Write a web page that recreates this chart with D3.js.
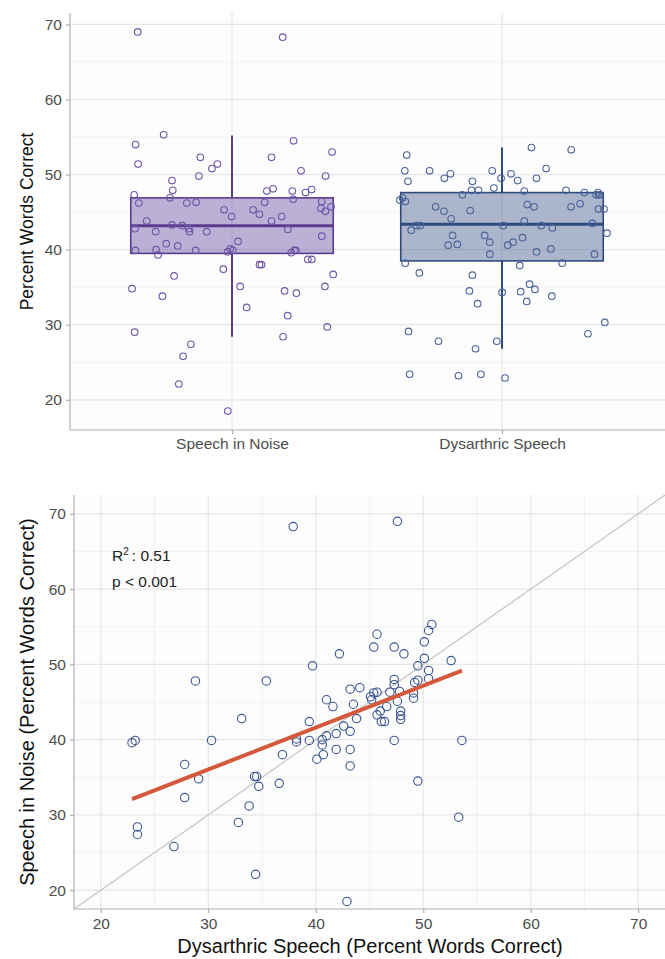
<!DOCTYPE html>
<html><head><meta charset="utf-8">
<script src="https://cdn.jsdelivr.net/npm/d3@7/dist/d3.min.js"></script>
<style>
body{margin:0;background:#fff;}
svg{display:block;font-family:"Liberation Sans",Arial,Helvetica,sans-serif;}
</style></head>
<body>
<svg id="chart" width="665" height="959"></svg>
<script>
// ---- data (paired per listener: dysarthric speech vs speech in noise, % words correct) ----
const categories = ["Speech in Noise", "Dysarthric Speech"];
const dysarthric = [37.9,47.6,50.8,50.5,45.7,45.4,47.3,50.1,48.2,42.2,52.6,50.1,39.7,49.5,50.5,50.5,49.5,49.2,47.3,47.3,
  28.8,35.4,49.1,49.1,47.8,46.9,45.7,45.4,45.1,45.2,47.6,46.6,46.0,45.7,46.1,46.4,47.9,47.9,47.9,43.2,
  44.1,41.0,41.6,43.5,43.8,39.4,42.6,43.2,41.9,41.0,40.6,40.6,40.7,38.2,39.4,40.1,41.9,43.2,43.2,47.3,
  53.6,33.1,22.9,23.2,30.3,27.8,29.1,27.8,23.4,23.4,26.8,34.3,34.5,34.7,33.8,32.8,36.6,36.9,34.4,42.9,
  38.2,49.5,53.3];
const noise = [68.3,69.0,55.3,54.5,54.0,52.3,52.3,53.0,51.4,51.4,50.5,50.8,49.8,49.8,49.2,48.1,47.9,47.6,48.0,47.3,
  47.8,47.8,46.2,45.5,46.4,46.3,46.3,46.2,45.7,45.3,45.1,44.4,43.8,43.3,42.4,42.4,43.8,43.2,42.7,46.7,
  46.9,45.3,44.4,44.7,42.8,42.4,41.8,41.1,40.8,40.5,40.0,39.3,38.0,39.7,39.9,37.4,38.7,38.7,36.5,39.9,
  39.9,42.8,39.6,39.9,39.9,36.7,34.8,32.3,28.4,27.4,25.8,35.1,35.1,33.8,31.2,29.0,34.2,38.0,22.1,18.5,
  40.1,34.5,29.7];
// box summaries: [lower whisker, Q1, median, Q3, upper whisker]
const noiseBox = [28.4, 39.5, 43.2, 46.9, 55.2];
const dysarthricBox = [26.8, 38.5, 43.4, 47.6, 53.6];
const valueTicks = [20,30,40,50,60,70];
const minorTicks = [25,35,45,55,65];
const fitLabel = ["R", "2", ": 0.51"];
const pLabel = "p < 0.001";

const series = [
  {name: categories[0], values: noise, box: noiseBox, stroke: "#5c3b8f", fill: "rgba(106,81,163,0.45)", pt: "#6e55a8"},
  {name: categories[1], values: dysarthric, box: dysarthricBox, stroke: "#2e4a7e", fill: "rgba(70,95,145,0.45)", pt: "#4a639a"}
];

const svg = d3.select("#chart");
const gridMajor = "#e6e6e6", gridMinor = "#f2f2f2", axisCol = "#b0b0b0", tickText = "#4d4d4d";
const tickFont = "15.5px";

// ================= TOP PANEL: box + jitter =================
const T = {l: 70, r: 665, t: 13, b: 430};
const all = noise.concat(dysarthric);
const ext = d3.extent(all), pad = (ext[1]-ext[0])*0.05;
const yTop = d3.scaleLinear().domain([ext[0]-pad, ext[1]+pad]).range([T.b, T.t]);
const xTop = d3.scalePoint().domain(categories).range([T.l, T.r-1]).padding(0.6);
const step = xTop.step();

const gT = svg.append("g");
gT.append("rect").attr("x",T.l).attr("y",T.t).attr("width",T.r-T.l).attr("height",T.b-T.t).attr("fill","#fdfdfd");
gT.selectAll(".mi").data(minorTicks).join("line")
  .attr("x1",T.l).attr("x2",T.r).attr("y1",d=>yTop(d)).attr("y2",d=>yTop(d)).attr("stroke",gridMinor).attr("stroke-width",1);
gT.selectAll(".ma").data(valueTicks).join("line")
  .attr("x1",T.l).attr("x2",T.r).attr("y1",d=>yTop(d)).attr("y2",d=>yTop(d)).attr("stroke",gridMajor).attr("stroke-width",1.2);
gT.selectAll(".mv").data(categories).join("line")
  .attr("x1",d=>xTop(d)).attr("x2",d=>xTop(d)).attr("y1",T.t).attr("y2",T.b).attr("stroke",gridMajor).attr("stroke-width",1.2);

const rng = d3.randomLcg(0.4242);
const jit = d3.randomUniform.source(rng)(-0.39, 0.39);

series.forEach(s => {
  const [lo, q1, med, q3, hi] = s.box;
  const cx = xTop(s.name), bw = step*0.75;
  const g = gT.append("g");
  g.append("line").attr("x1",cx).attr("x2",cx).attr("y1",yTop(hi)).attr("y2",yTop(q3)).attr("stroke",s.stroke).attr("stroke-width",2);
  g.append("line").attr("x1",cx).attr("x2",cx).attr("y1",yTop(q1)).attr("y2",yTop(lo)).attr("stroke",s.stroke).attr("stroke-width",2);
  g.append("rect").attr("x",cx-bw/2).attr("y",yTop(q3)).attr("width",bw).attr("height",yTop(q1)-yTop(q3))
    .attr("fill",s.fill).attr("stroke",s.stroke).attr("stroke-width",1.6);
  g.append("line").attr("x1",cx-bw/2).attr("x2",cx+bw/2).attr("y1",yTop(med)).attr("y2",yTop(med)).attr("stroke",s.stroke).attr("stroke-width",3);
  g.selectAll("circle").data(s.values).join("circle")
    .attr("cx",()=>cx+jit()*step).attr("cy",d=>yTop(d)).attr("r",3.3)
    .attr("fill","none").attr("stroke",s.pt).attr("stroke-width",1.1);
});

// axes
const axL = gT.append("g").attr("transform",`translate(${T.l},0)`)
  .call(d3.axisLeft(yTop).tickValues(valueTicks).tickSize(4).tickPadding(4));
const axB = gT.append("g").attr("transform",`translate(0,${T.b})`)
  .call(d3.axisBottom(xTop).tickSize(4).tickPadding(4));
[axL,axB].forEach(a=>{
  a.select(".domain").attr("stroke",axisCol).attr("stroke-width",1.2);
  a.selectAll(".tick line").attr("stroke",axisCol).attr("stroke-width",1.2);
  a.selectAll(".tick text").attr("fill",tickText).style("font-size",tickFont).style("font-family","inherit");
});
axL.select(".domain").attr("d",`M0,${T.t}V${T.b}`);
axB.select(".domain").attr("d",`M${T.l},0H${T.r}`);

svg.append("text").attr("transform",`translate(33,${(T.t+T.b)/2}) rotate(-90)`)
  .attr("text-anchor","middle").style("font-size","17.5px").attr("fill","#111").text("Percent Words Correct");

// ================= BOTTOM PANEL: scatter =================
const B = {l: 74, r: 665, t: 495, b: 909};
const lim = [valueTicks[0]-2.5, valueTicks[valueTicks.length-1]+2.5];
const xS = d3.scaleLinear().domain(lim).range([B.l, B.r]);
const yS = d3.scaleLinear().domain(lim).range([B.b, B.t]);
const gB = svg.append("g");
gB.append("rect").attr("x",B.l).attr("y",B.t).attr("width",B.r-B.l).attr("height",B.b-B.t).attr("fill","#fdfdfd");
gB.selectAll(".mi").data(minorTicks).join("line")
  .attr("x1",B.l).attr("x2",B.r).attr("y1",d=>yS(d)).attr("y2",d=>yS(d)).attr("stroke",gridMinor);
gB.selectAll(".mix").data(minorTicks).join("line")
  .attr("x1",d=>xS(d)).attr("x2",d=>xS(d)).attr("y1",B.t).attr("y2",B.b).attr("stroke",gridMinor);
gB.selectAll(".ma").data(valueTicks).join("line")
  .attr("x1",B.l).attr("x2",B.r).attr("y1",d=>yS(d)).attr("y2",d=>yS(d)).attr("stroke",gridMajor).attr("stroke-width",1.2);
gB.selectAll(".max").data(valueTicks).join("line")
  .attr("x1",d=>xS(d)).attr("x2",d=>xS(d)).attr("y1",B.t).attr("y2",B.b).attr("stroke",gridMajor).attr("stroke-width",1.2);

// identity line
gB.append("line").attr("x1",xS(lim[0])).attr("y1",yS(lim[0])).attr("x2",xS(lim[1])).attr("y2",yS(lim[1]))
  .attr("stroke","#c4c4c4").attr("stroke-width",1.2);

gB.selectAll("circle").data(dysarthric.map((d,i)=>[d,noise[i]])).join("circle")
  .attr("cx",d=>xS(d[0])).attr("cy",d=>yS(d[1])).attr("r",4.2)
  .attr("fill","none").attr("stroke","#3a5590").attr("stroke-width",1.1);

// least squares fit
const mx = d3.mean(dysarthric), my = d3.mean(noise);
let sxy=0,sxx=0; dysarthric.forEach((d,i)=>{sxy+=(d-mx)*(noise[i]-my); sxx+=(d-mx)*(d-mx);});
const slope = sxy/sxx, icpt = my - slope*mx;
const xe = d3.extent(dysarthric);
gB.append("line").attr("x1",xS(xe[0])).attr("y1",yS(icpt+slope*xe[0])).attr("x2",xS(xe[1])).attr("y2",yS(icpt+slope*xe[1]))
  .attr("stroke","#d4593b").attr("stroke-width",4).attr("stroke-linecap","butt");

const ann = gB.append("text").attr("x",112).attr("y",561).style("font-size","15.5px").attr("fill","#222");
ann.append("tspan").text(fitLabel[0]);
ann.append("tspan").attr("dy",-6).style("font-size","10px").text(fitLabel[1]);
ann.append("tspan").attr("dy",6).attr("dx",3).text(fitLabel[2]);
gB.append("text").attr("x",112).attr("y",587).style("font-size","15.5px").attr("fill","#222").text(pLabel);

const axL2 = gB.append("g").attr("transform",`translate(${B.l},0)`)
  .call(d3.axisLeft(yS).tickValues(valueTicks).tickSize(4).tickPadding(4));
const axB2 = gB.append("g").attr("transform",`translate(0,${B.b})`)
  .call(d3.axisBottom(xS).tickValues(valueTicks).tickSize(4).tickPadding(5));
[axL2,axB2].forEach(a=>{
  a.select(".domain").attr("stroke",axisCol).attr("stroke-width",1.2);
  a.selectAll(".tick line").attr("stroke",axisCol).attr("stroke-width",1.2);
  a.selectAll(".tick text").attr("fill",tickText).style("font-size",tickFont).style("font-family","inherit");
});
axL2.select(".domain").attr("d",`M0,${B.t}V${B.b}`);
axB2.select(".domain").attr("d",`M${B.l},0H${B.r}`);

svg.append("text").attr("transform",`translate(34,${(B.t+B.b)/2}) rotate(-90)`)
  .attr("text-anchor","middle").style("font-size","20px").attr("fill","#111").text("Speech in Noise (Percent Words Correct)");
svg.append("text").attr("x",370).attr("y",953).attr("text-anchor","middle")
  .style("font-size","20px").attr("fill","#111").text("Dysarthric Speech (Percent Words Correct)");
</script>
</body></html>
